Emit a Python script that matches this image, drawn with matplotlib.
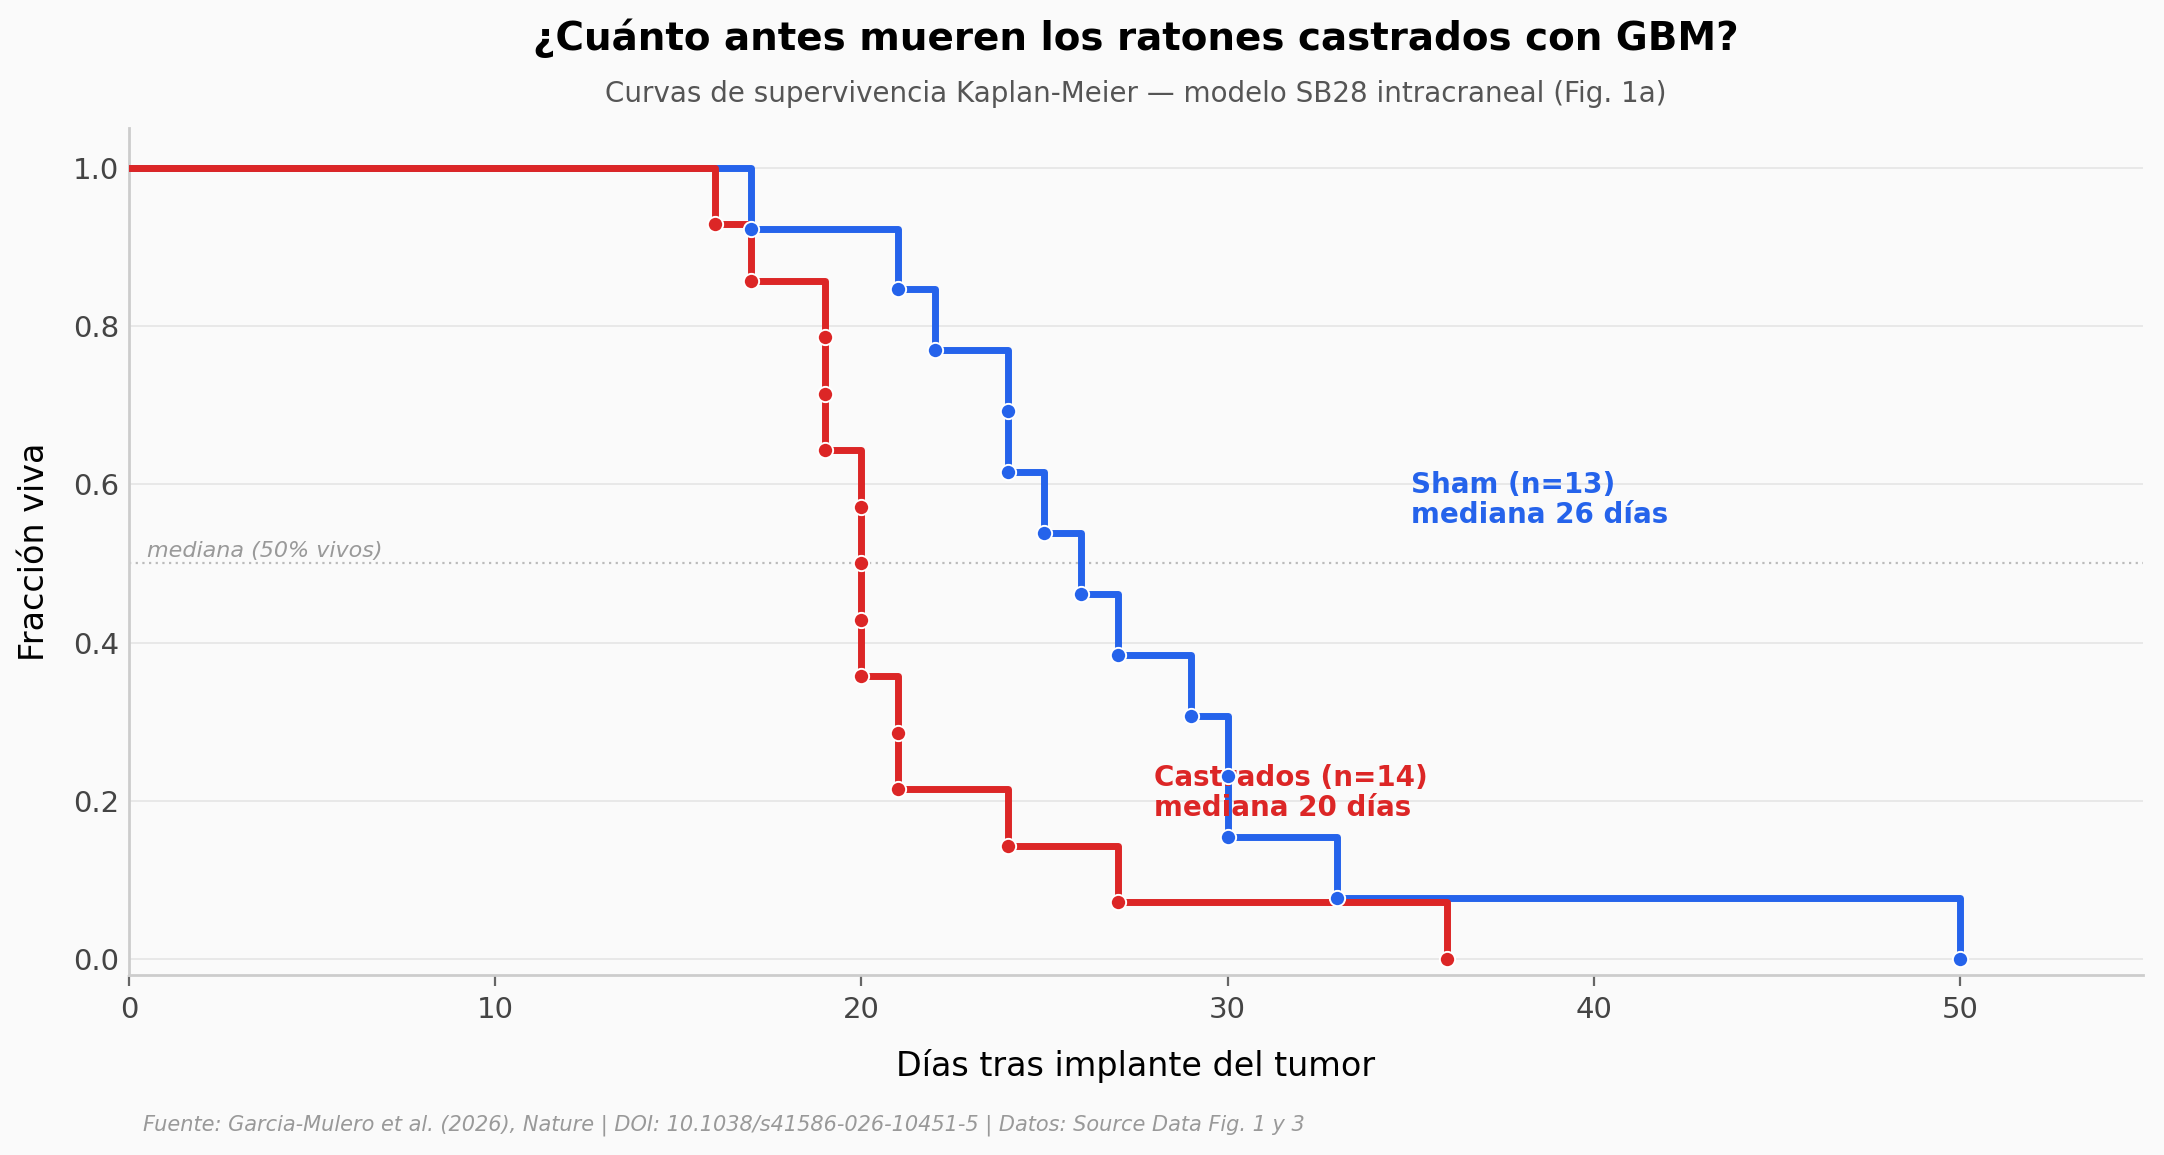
import matplotlib
matplotlib.use("Agg")
import matplotlib.pyplot as plt
import numpy as np

# Death days (one entry per mouse)
sham_days = [17, 21, 22, 24, 24, 25, 26, 27, 29, 30, 30, 33, 50]
cast_days = [16, 17, 19, 19, 19, 20, 20, 20, 20, 21, 21, 24, 27, 36]
groups = ["Sham (n=13)\nmediana 26 días", "Castrados (n=14)\nmediana 20 días"]
colors = ["#2563EB", "#DC2626"]
x_ticks = [0, 10, 20, 30, 40, 50]
y_ticks = [0.0, 0.2, 0.4, 0.6, 0.8, 1.0]

def km(days):
    d = sorted(days)
    n = len(d)
    surv = [1 - (i + 1) / n for i in range(n)]
    return d, surv

BG = "#FAFAFA"
fig = plt.figure(figsize=(10.82, 5.775), dpi=200, facecolor=BG)
ax = fig.add_axes([0.0596, 0.156, 0.9307, 0.733])
ax.set_facecolor(BG)

ax.axhline(0.5, color="#BBBBBB", lw=0.8, ls=(0, (1, 2)), zorder=1)
ax.text(0.5, 0.503, "mediana (50% vivos)", fontsize=8, style="italic",
        color="#999999", ha="left", va="bottom")

for days, c in zip([sham_days, cast_days], colors):
    d, s = km(days)
    xs = [0] + d
    ys = [1.0] + s
    ax.step(xs, ys, where="post", color=c, lw=2.5, zorder=3,
            solid_joinstyle="round", solid_capstyle="round")
for days, c in zip([sham_days, cast_days], colors):
    d, s = km(days)
    ax.plot(d, s, ls="none", marker="o", ms=5.5, mfc=c, mec="white",
            mew=0.7, zorder=4)

ax.text(35, 0.58, groups[0], color=colors[0], fontsize=10,
        fontweight="bold", ha="left", va="center", linespacing=1.1)
ax.text(28, 0.21, groups[1], color=colors[1], fontsize=10,
        fontweight="bold", ha="left", va="center", linespacing=1.1)

ax.set_xlim(0, 55)
ax.set_ylim(-0.02, 1.05)
ax.set_xticks(x_ticks)
ax.set_yticks(y_ticks)
ax.set_yticklabels([f"{v:.1f}" for v in y_ticks])
ax.tick_params(axis="both", labelsize=10.5, colors="#444444")
ax.tick_params(axis="x", length=4, width=0.8, color="#666666")
ax.tick_params(axis="y", length=0)
ax.grid(axis="y", color="#E8E8E8", lw=0.7, zorder=0)
ax.set_axisbelow(True)
for sp in ["top", "right"]:
    ax.spines[sp].set_visible(False)
for sp in ["left", "bottom"]:
    ax.spines[sp].set_color("#CCCCCC")
    ax.spines[sp].set_linewidth(1.0)

ax.set_xlabel("Días tras implante del tumor", fontsize=12, labelpad=9)
ax.set_ylabel("Fracción viva", fontsize=12, labelpad=8)

cx = 0.0596 + 0.9307 / 2
fig.text(cx, 0.967, "¿Cuánto antes mueren los ratones castrados con GBM?",
         ha="center", va="center", fontsize=14, fontweight="bold")
fig.text(cx, 0.919, "Curvas de supervivencia Kaplan-Meier — modelo SB28 intracraneal (Fig. 1a)",
         ha="center", va="center", fontsize=10, color="#555555")
fig.text(0.066, 0.026, "Fuente: Garcia-Mulero et al. (2026), Nature | DOI: 10.1038/s41586-026-10451-5 | Datos: Source Data Fig. 1 y 3",
         ha="left", va="center", fontsize=7.5, style="italic", color="#999999")

fig.savefig("out.png", dpi=200, facecolor=BG)
